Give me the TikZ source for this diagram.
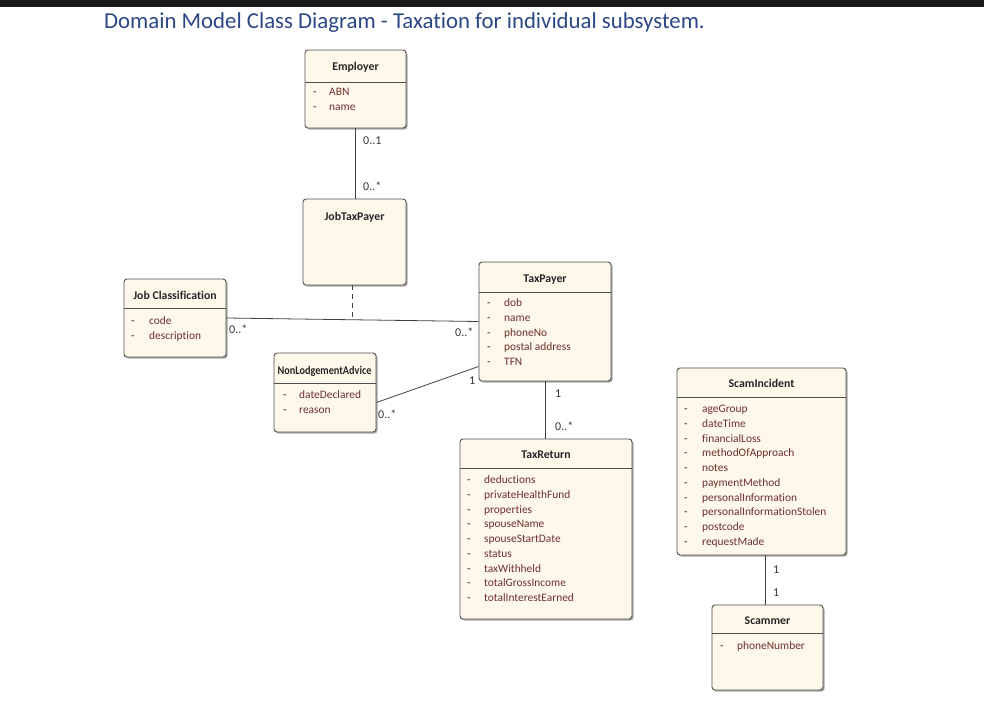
\documentclass[tikz,border=0pt]{standalone}
\usepackage{fontspec}
\setmainfont{Carlito}[Ligatures=NoCommon]
\usetikzlibrary{shadows,calc}
\definecolor{boxfill}{HTML}{FDF8EA}
\definecolor{boxline}{HTML}{505050}
\definecolor{attrcol}{HTML}{6E2F2F}
\definecolor{titleblue}{HTML}{2C4785}
\definecolor{labcol}{HTML}{333333}
\tikzset{
  cls/.style={draw=boxline, line width=0.9pt, fill=boxfill, rounded corners=3pt,
     drop shadow={shadow xshift=1.5pt, shadow yshift=-1.5pt, opacity=0.35, fill=black},
     inner sep=0pt},
  ctitle/.style={font=\fontsize{11.8}{13}\selectfont\bfseries, text=black!85, inner sep=0pt,
     text height=9pt, text depth=2pt},
  attr/.style={font=\fontsize{11.4}{13}\selectfont, text=attrcol, anchor=west, inner sep=0pt,
     text height=9pt, text depth=2pt},
  adash/.style={font=\fontsize{11.4}{13}\selectfont, text=black!85, anchor=west, inner sep=0pt,
     text height=9pt, text depth=2pt},
  sepline/.style={draw=boxline, line width=0.8pt},
  assoc/.style={draw=black!75, line width=0.8pt},
  mult/.style={font=\fontsize{12}{14}\selectfont, text=labcol, anchor=west, inner sep=0pt,
     text height=9pt, text depth=2pt},
}
\begin{document}
\begin{tikzpicture}[x=1pt,y=-1pt]
\useasboundingbox (0,0) rectangle (984,709);
\fill[black!90] (0,0) rectangle (984,7);
\node[anchor=west, inner sep=0pt, font=\fontsize{22.8}{26}\selectfont, text=titleblue] (title) at (104,23) {Domain Model Class Diagram - Taxation for individual subsystem.};

% Employer
\node[cls, minimum width=101pt, minimum height=78pt] (emp) at (355.5,89) {};
\node[ctitle] (emp-t) at (355.5,67) {Employer};
\draw[sepline] (305,82) -- (406,82);
\foreach \t [count=\i] in {ABN,name}{
  \node[adash] (emp-d\i) at (313,{92+(\i-1)*14.8}) {-};
  \node[attr] (emp-a\i) at (329,{92+(\i-1)*14.8}) {\t};
}

% JobTaxPayer
\node[cls, minimum width=103pt, minimum height=86pt] (jtp) at (354.5,242) {};
\node[ctitle] (jtp-t) at (354.5,217) {JobTaxPayer};

% Job Classification
\node[cls, minimum width=102pt, minimum height=78pt] (jc) at (175,318) {};
\node[ctitle] (jc-t) at (175,296) {Job Classification};
\draw[sepline] (124,308) -- (226,308);
\foreach \t [count=\i] in {code,description}{
  \node[adash] (jc-d\i) at (131,{321+(\i-1)*14.5}) {-};
  \node[attr] (jc-a\i) at (149,{321+(\i-1)*14.5}) {\t};
}

% TaxPayer
\node[cls, minimum width=132pt, minimum height=119pt] (tp) at (545,321.5) {};
\node[ctitle] (tp-t) at (545,279) {TaxPayer};
\draw[sepline] (479,292) -- (611,292);
\foreach \t [count=\i] in {dob,name,phoneNo,postal address,TFN}{
  \node[adash] (tp-d\i) at (487,{303+(\i-1)*14.8}) {-};
  \node[attr] (tp-a\i) at (504,{303+(\i-1)*14.8}) {\t};
}

% NonLodgementAdvice
\node[cls, minimum width=102pt, minimum height=79pt] (nla) at (325,392.5) {};
\node[ctitle] (nla-t) at (324.5,371) {\scalebox{0.87}[1]{NonLodgementAdvice}};
\draw[sepline] (274,383) -- (376,383);
\foreach \t [count=\i] in {dateDeclared,reason}{
  \node[adash] (nla-d\i) at (283,{395+(\i-1)*14.5}) {-};
  \node[attr] (nla-a\i) at (299,{395+(\i-1)*14.5}) {\t};
}

% TaxReturn
\node[cls, minimum width=172pt, minimum height=180pt] (tr) at (546,529) {};
\node[ctitle] (tr-t) at (546,455) {TaxReturn};
\draw[sepline] (460,468) -- (632,468);
\foreach \t [count=\i] in {deductions,privateHealthFund,properties,spouseName,spouseStartDate,status,taxWithheld,totalGrossIncome,totalInterestEarned}{
  \node[adash] (tr-d\i) at (467,{480+(\i-1)*14.75}) {-};
  \node[attr] (tr-a\i) at (484,{480+(\i-1)*14.75}) {\t};
}

% ScamIncident
\node[cls, minimum width=169pt, minimum height=187pt] (si) at (761.5,461.5) {};
\node[ctitle] (si-t) at (761.5,384) {ScamIncident};
\draw[sepline] (677,397) -- (846,397);
\foreach \t [count=\i] in {ageGroup,dateTime,financialLoss,methodOfApproach,notes,paymentMethod,personalInformation,personalInformationStolen,postcode,requestMade}{
  \node[adash] (si-d\i) at (684,{409+(\i-1)*14.75}) {-};
  \node[attr] (si-a\i) at (702,{409+(\i-1)*14.75}) {\t};
}

% Scammer
\node[cls, minimum width=111pt, minimum height=85pt] (sc) at (767.5,647.5) {};
\node[ctitle] (sc-t) at (767.5,621) {Scammer};
\draw[sepline] (712,633) -- (823,633);
\node[adash] (sc-d1) at (720,646) {-};
\node[attr] (sc-a1) at (737,646) {phoneNumber};

% connectors
\draw[assoc] (emp.south) -- (jtp.north -| emp.south);
\node[mult] (m1) at (363,141) {0..1};
\node[mult] (m2) at (363,187) {0..*};

\draw[assoc] (jc.east) -- (tp.west);
\coordinate (mid) at ($(jc.east)!0.5!(tp.west)$);
\draw[assoc, dash pattern=on 5pt off 4pt] (mid |- jtp.south) -- (mid);
\node[mult] (m3) at (229,330) {0..*};
\node[mult] (m4) at (455,333) {0..*};

\draw[assoc] ([yshift=-10pt]nla.east) -- ([yshift=-45pt]tp.west);
\node[mult] (m5) at (378,415) {0..*};
\node[mult] (m6) at (469,381) {1};

\draw[assoc] (tp.south) -- (tp.south |- tr.north);
\node[mult] (m7) at (555,394) {1};
\node[mult] (m8) at (555,427) {0..*};

\draw[assoc] ([xshift=3.5pt]si.south) -- ([xshift=-2.5pt]sc.north);
\node[mult] (m9) at (773,570) {1};
\node[mult] (m10) at (773,593) {1};
\end{tikzpicture}
\end{document}
